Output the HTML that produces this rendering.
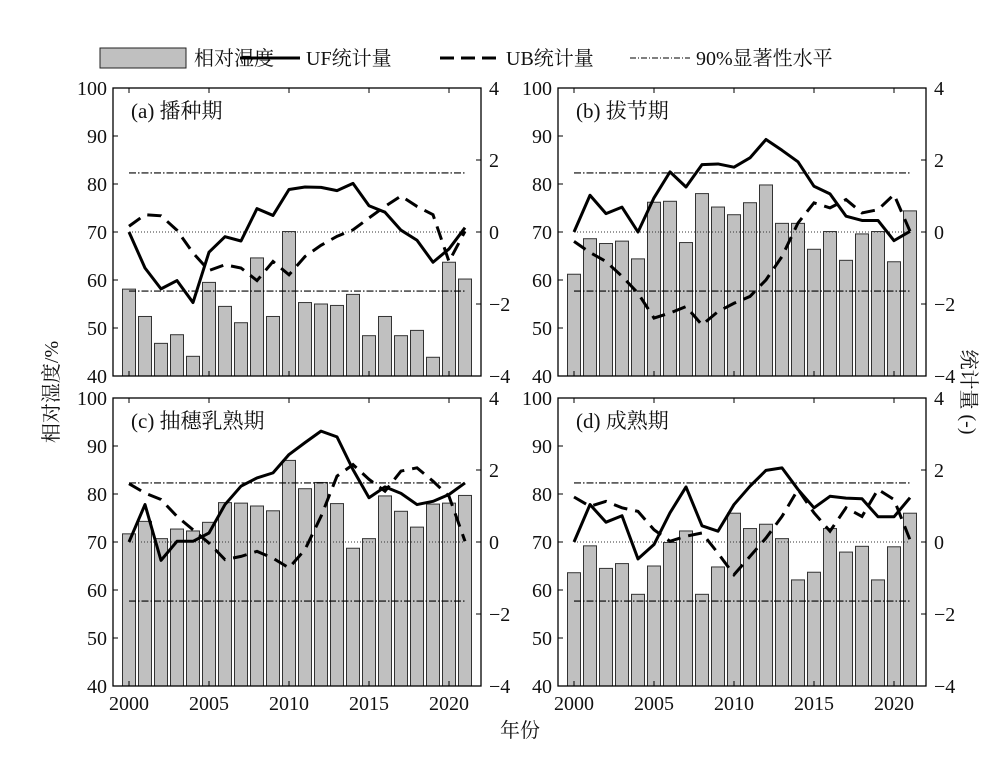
<!DOCTYPE html>
<html><head><meta charset="utf-8"><style>
body{margin:0;background:#fff}
svg text{font-family:"Liberation Serif","Noto Serif CJK SC",serif;fill:#111}
</style></head><body>
<svg id="c" width="1005" height="764" viewBox="0 0 1005 764" xmlns="http://www.w3.org/2000/svg">
<g>
<rect x="100" y="48" width="86" height="20" fill="#c0c0c0" stroke="#222"/>
<text x="194" y="65" font-size="20">相对湿度</text>
<line x1="240" y1="58" x2="300" y2="58" stroke="#000" stroke-width="3"/>
<text x="306" y="65" font-size="20">UF统计量</text>
<line x1="440" y1="58" x2="502" y2="58" stroke="#000" stroke-width="3" stroke-dasharray="14,7"/>
<text x="506" y="65" font-size="20">UB统计量</text>
<line x1="630" y1="58" x2="690" y2="58" stroke="#000" stroke-width="1" stroke-dasharray="6,2,1,2"/>
<text x="696" y="65" font-size="20">90%显著性水平</text>
</g>
<text transform="translate(58,392) rotate(-90)" text-anchor="middle" font-size="20">相对湿度/%</text>
<text transform="translate(962,392) rotate(90)" text-anchor="middle" font-size="20">统计量 (-)</text>
<text x="520" y="737" text-anchor="middle" font-size="20">年份</text>
</svg>
<script>
const years=[2000,2001,2002,2003,2004,2005,2006,2007,2008,2009,2010,2011,2012,2013,2014,2015,2016,2017,2018,2019,2020,2021];
const panelTitles=["(a) 播种期","(b) 拔节期","(c) 抽穗乳熟期","(d) 成熟期"];
const humA=[58.1,52.4,46.8,48.6,44.1,59.5,54.5,51.1,64.6,52.4,70.1,55.3,55,54.7,57,48.4,52.4,48.4,49.5,43.9,63.7,60.2];
const ufA=[0,-1.0,-1.58,-1.35,-1.96,-0.56,-0.13,-0.25,0.65,0.46,1.18,1.25,1.24,1.15,1.35,0.73,0.55,0.05,-0.23,-0.84,-0.47,0.12];
const ubA=[0.16,0.48,0.45,0.05,-0.58,-1.07,-0.91,-1.0,-1.35,-0.82,-1.19,-0.68,-0.37,-0.12,0.06,0.39,0.71,1.0,0.71,0.48,-0.82,0.02];
const humB=[61.2,68.6,67.6,68.1,64.4,76.2,76.4,67.8,78.0,75.2,73.6,76.1,79.8,71.8,71.8,66.4,70.1,64.1,69.6,70.1,63.8,74.4];
const ufB=[0,1.02,0.51,0.69,0,0.95,1.67,1.25,1.87,1.89,1.80,2.06,2.57,2.27,1.95,1.27,1.06,0.44,0.32,0.32,-0.24,0.02];
const ubB=[-0.26,-0.57,-0.82,-1.23,-1.70,-2.39,-2.25,-2.07,-2.58,-2.21,-1.98,-1.79,-1.33,-0.68,0.25,0.81,0.67,0.9,0.53,0.62,1.04,0.02];
const humC=[71.7,74.3,70.7,72.7,72.3,74.1,78.2,78.1,77.5,76.5,87.0,81.1,82.4,78.0,68.7,70.7,79.6,76.4,73.1,77.9,78.1,79.7];
const ufC=[0,1.04,-0.51,0.02,0.02,0.25,1.04,1.55,1.78,1.92,2.43,2.76,3.08,2.92,2.01,1.23,1.53,1.35,1.04,1.13,1.32,1.64];
const ubC=[1.62,1.36,1.18,0.71,0.34,-0.03,-0.49,-0.40,-0.26,-0.45,-0.72,-0.21,0.71,1.83,2.15,1.74,1.41,1.97,2.06,1.69,1.27,0.02];
const humD=[63.6,69.2,64.5,65.5,59.1,65.0,69.9,72.3,59.1,64.8,76.0,72.8,73.7,70.7,62.1,63.7,72.8,67.9,69.1,62.1,69.0,76.0];
const ufD=[0,1.04,0.55,0.73,-0.47,-0.07,0.81,1.53,0.45,0.30,1.04,1.55,1.99,2.06,1.46,0.95,1.27,1.22,1.2,0.7,0.7,1.23];
const ubD=[1.25,0.99,1.13,0.95,0.85,0.34,0.02,0.16,0.25,-0.31,-0.91,-0.40,0.11,0.71,1.46,0.81,0.30,0.95,0.71,1.46,1.18,0.06];
const threshold=[1.64,-1.64];
const leftTicks=[40,50,60,70,80,90,100];
const rightTicks=[-4,-2,0,2,4];
const xTicks=[2000,2005,2010,2015,2020];

const NS="http://www.w3.org/2000/svg";
const svg=document.getElementById('c');
function mk(tag,attrs,parent){const e=document.createElementNS(NS,tag);for(const k in attrs)e.setAttribute(k,attrs[k]);(parent||svg).appendChild(e);return e;}
const panels=[
 {x:113,y:88,hum:humA,uf:ufA,ub:ubA,key:'a',bottom:false},
 {x:558,y:88,hum:humB,uf:ufB,ub:ubB,key:'b',bottom:false},
 {x:113,y:398,hum:humC,uf:ufC,ub:ubC,key:'c',bottom:true},
 {x:558,y:398,hum:humD,uf:ufD,ub:ubD,key:'d',bottom:true}];
const W=368,H=288;
panels.forEach((p,i)=>{
 const g=mk('g',{});
 
 
 const xs=yr=>p.x+16+(yr-2000)*(W-32)/21;
 const yl=v=>p.y+H-(v-40)/60*H;
 const yr=v=>p.y+H/2-v/8*H;
 p.hum.forEach((v,j)=>{
  const r=mk('rect',{x:xs(years[j])-6.5,y:yl(v),width:13,height:p.y+H-yl(v),fill:'#c0c0c0',stroke:'#333','stroke-width':1},g);
  
  
 });
 const z=mk('line',{x1:xs(2000),x2:xs(2021),y1:yr(0),y2:yr(0),stroke:'#333','stroke-width':1,'stroke-dasharray':'1,2'},g);
 
 
 threshold.forEach(t=>{
  const l=mk('line',{x1:xs(2000),x2:xs(2021),y1:yr(t),y2:yr(t),stroke:'#000','stroke-width':1.2,'stroke-dasharray':'7,2,1.5,2'},g);
  
  
 });
 const uf=mk('polyline',{points:p.uf.map((v,j)=>xs(years[j])+','+yr(v)).join(' '),fill:'none',stroke:'#000','stroke-width':3,'stroke-linejoin':'round'},g);
 
 
 const ub=mk('polyline',{points:p.ub.map((v,j)=>xs(years[j])+','+yr(v)).join(' '),fill:'none',stroke:'#000','stroke-width':3,'stroke-dasharray':'14,8'},g);
 
 
 const fr=mk('rect',{x:p.x,y:p.y,width:W,height:H,fill:'none',stroke:'#000','stroke-width':1.3},g);
 
 
 leftTicks.forEach(t=>{
  mk('line',{x1:p.x,x2:p.x+5,y1:yl(t),y2:yl(t),stroke:'#000'},g);
  const tx=mk('text',{x:p.x-6,y:yl(t)+7,'text-anchor':'end','font-size':20},g);
  tx.textContent=t;
  
  
 });
 rightTicks.forEach(t=>{
  mk('line',{x1:p.x+W-5,x2:p.x+W,y1:yr(t),y2:yr(t),stroke:'#000'},g);
  const tx=mk('text',{x:p.x+W+8,y:yr(t)+7,'font-size':20},g);
  tx.textContent=(t<0?'\u2212':'')+Math.abs(t);
  
  
 });
 xTicks.forEach(t=>{
  mk('line',{x1:xs(t),x2:xs(t),y1:p.y,y2:p.y+5,stroke:'#000'},g);
  mk('line',{x1:xs(t),x2:xs(t),y1:p.y+H-5,y2:p.y+H,stroke:'#000'},g);
  if(p.bottom){
   const tx=mk('text',{x:xs(t),y:p.y+H+24,'text-anchor':'middle','font-size':20},g);
   tx.textContent=t;
   
   
  }
 });
 const tt=mk('text',{x:p.x+18,y:p.y+30,'font-size':21},g);
 tt.textContent=panelTitles[i];
 
 
});
</script>
</body></html>
